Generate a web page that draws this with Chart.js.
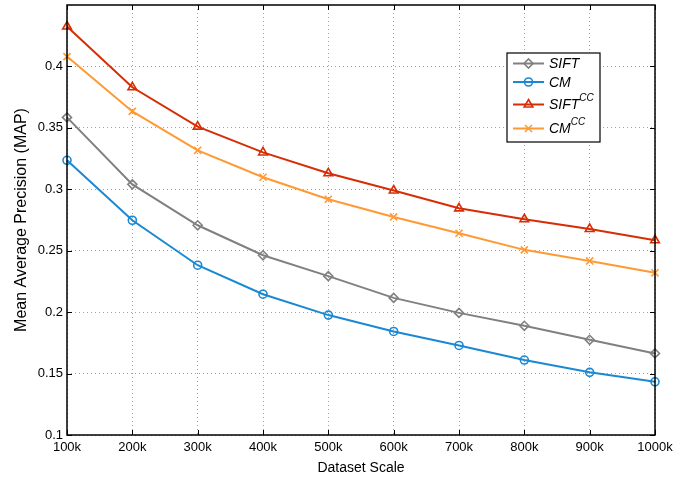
<!DOCTYPE html>
<html><head><meta charset="utf-8">
<script src="https://cdn.jsdelivr.net/npm/chart.js@4/dist/chart.umd.min.js"></script>
<style>html,body{margin:0;padding:0;background:#fff}#wrap{width:691px;height:483px}</style>
</head><body><div id="wrap"><canvas id="c" width="691" height="483"></canvas></div>
<script>
const categories = ["100k","200k","300k","400k","500k","600k","700k","800k","900k","1000k"];
const sift   = [0.3585,0.304,0.2707,0.2463,0.2293,0.2116,0.1994,0.1889,0.1775,0.1664];
const cm     = [0.3236,0.2748,0.2382,0.2146,0.1976,0.1843,0.1729,0.161,0.151,0.1433];
const siftCC = [0.4325,0.383,0.351,0.330,0.313,0.299,0.2845,0.2756,0.2677,0.2585];
const cmCC   = [0.408,0.3634,0.3317,0.3098,0.2919,0.2775,0.2642,0.2507,0.2417,0.232];
const seriesNames = [["SIFT",""],["CM",""],["SIFT","CC"],["CM","CC"]];
const yTicks = [0.1,0.15,0.2,0.25,0.3,0.35,0.4];

const colors = ["#808080","#1a88d2","#d62d05","#ff9933"];
const shapes = ["rectRot","circle","triangle","crossRot"];
const radii = [4.5,4,5,5];
const dataArr = [sift,cm,siftCC,cmCC];

const FONT = "'Liberation Sans', Arial, sans-serif";

const boxPlugin = {
  id:'boxPlugin',
  afterDraw(chart){
    const ctx = chart.ctx, a = chart.chartArea;
    const xs = chart.scales.x, ys = chart.scales.y;
    ctx.save();
    ctx.strokeStyle = '#000'; ctx.lineWidth = 1.5;
    ctx.strokeRect(a.left, a.top, a.right-a.left, a.bottom-a.top);
    ctx.lineWidth = 1;
    const tl = 5;
    ctx.beginPath();
    xs.ticks.forEach((t,i)=>{
      const x = Math.round(xs.getPixelForTick(i))+0.5;
      ctx.moveTo(x,a.bottom); ctx.lineTo(x,a.bottom-tl);
      ctx.moveTo(x,a.top); ctx.lineTo(x,a.top+tl);
    });
    yTicks.forEach(v=>{
      const y = Math.round(ys.getPixelForValue(v))+0.5;
      ctx.moveTo(a.left,y); ctx.lineTo(a.left+tl,y);
      ctx.moveTo(a.right,y); ctx.lineTo(a.right-tl,y);
    });
    ctx.stroke();
    // legend
    const lx = 507, ly = 53, lw = 93, lh = 89;
    ctx.fillStyle = '#fff';
    ctx.fillRect(lx,ly,lw,lh);
    ctx.strokeStyle = '#000'; ctx.lineWidth = 1.2;
    ctx.strokeRect(lx,ly,lw,lh);
    const rows = [63.5,82,104.5,128.5];
    seriesNames.forEach((n,i)=>{
      const y = rows[i];
      ctx.strokeStyle = colors[i]; ctx.lineWidth = 2;
      ctx.beginPath(); ctx.moveTo(513,y); ctx.lineTo(544,y); ctx.stroke();
      ctx.lineWidth = 1.6;
      ctx.fillStyle = 'rgba(0,0,0,0)';
      Chart.helpers.drawPoint(ctx,{pointStyle:shapes[i],radius:radii[i],borderWidth:1.6},528.5,y);
      ctx.fillStyle = '#000';
      ctx.font = "italic 14px " + FONT;
      ctx.textBaseline = 'middle'; ctx.textAlign = 'left';
      ctx.fillText(n[0],549,y+1);
      if(n[1]){
        const w = ctx.measureText(n[0]).width;
        ctx.font = "italic 10px " + FONT;
        ctx.fillText(n[1],549+w,y-6);
      }
    });
    ctx.restore();
  }
};

new Chart(document.getElementById('c'),{
  type:'line',
  data:{
    labels:categories,
    datasets: dataArr.map((d,i)=>({
      label: seriesNames[i].join(''),
      data:d,
      borderColor:colors[i],
      backgroundColor:'rgba(0,0,0,0)',
      pointBorderColor:colors[i],
      pointBackgroundColor:'rgba(0,0,0,0)',
      pointStyle:shapes[i],
      pointRadius:radii[i],
      pointBorderWidth:1.6,
      borderWidth:2,
      tension:0,
      clip:false
    }))
  },
  options:{
    responsive:false,
    animation:false,
    layout:{autoPadding:false,padding:{left:12,right:36,top:5,bottom:0}},
    plugins:{legend:{display:false},tooltip:{enabled:false}},
    scales:{
      x:{
        type:'category', offset:false,
        grid:{color:'#a0a0a0',drawTicks:false,lineWidth:1},
        border:{display:false,dash:[1,3]},
        ticks:{color:'#000',font:{family:FONT,size:13},padding:5,maxRotation:0,autoSkip:false},
        title:{display:true,text:'Dataset Scale',color:'#000',font:{family:FONT,size:14},padding:{top:4,bottom:6}},
        afterFit(s){s.height=48;}
      },
      y:{
        min:0.1,max:0.45,
        afterBuildTicks(s){s.ticks = yTicks.map(v=>({value:v}));},
        grid:{color:'#a0a0a0',drawTicks:false,lineWidth:1},
        border:{display:false,dash:[1,3]},
        ticks:{color:'#000',font:{family:FONT,size:13},padding:4,
          callback:(v)=> String(Math.round(v*100)/100)},
        title:{display:true,text:'Mean Average Precision (MAP)',color:'#000',font:{family:FONT,size:16},padding:{top:0,bottom:4}},
        afterFit(s){s.width=55; s.paddingTop=0;}
      }
    }
  },
  plugins:[boxPlugin]
});
</script></body></html>
